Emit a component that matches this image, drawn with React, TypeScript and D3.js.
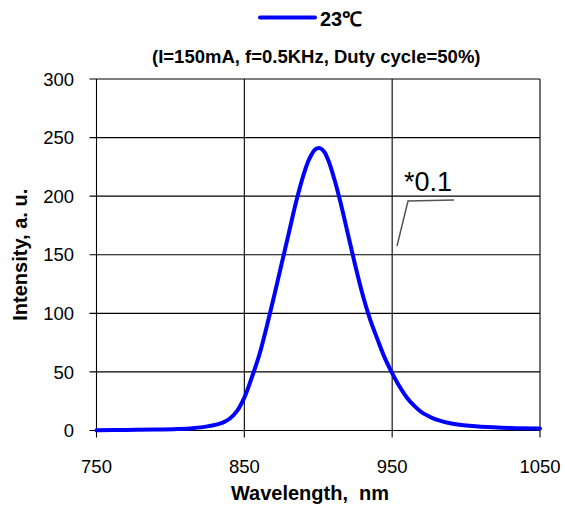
import React from "react";
import * as d3 from "d3";

const wavelengths = [750, 770, 790, 805, 815, 825, 835, 840, 845, 850, 855, 860, 865, 870, 875, 880, 885, 890, 894, 898, 901, 904, 907, 911, 915, 920, 925, 930, 935, 940, 945, 950, 955, 960, 965, 970, 975, 980, 990, 1000, 1010, 1030, 1050];
const intensities = [0.3, 0.5, 0.8, 1.3, 2, 3.5, 6.5, 10, 16.5, 28, 45, 64, 88, 114, 141, 168, 195, 218, 232, 240, 241, 238, 230, 214, 195, 168, 141, 116, 95, 78, 62, 49, 37.5, 28, 21, 15.5, 12, 9.3, 6, 4.2, 3.2, 2.2, 1.8];
const xTicks = [750, 850, 950, 1050];
const yTicks = [0, 50, 100, 150, 200, 250, 300];
const seriesName = "23℃";
const subtitle = "(I=150mA, f=0.5KHz, Duty cycle=50%)";
const xTitle = "Wavelength,  nm";
const yTitle = "Intensity, a. u.";
const note = "*0.1";

const W = 565, H = 511;
const left = 96.5, right = 540, top = 79, bottom = 430.5;
const FONT = "'Liberation Sans', Arial, Helvetica, sans-serif";

export default function App() {
  const x = d3.scaleLinear().domain([750, 1050]).range([left, right]);
  const y = d3.scaleLinear().domain([0, 300]).range([bottom, top]);
  const pts: [number, number][] = wavelengths.map((w, i) => [w, intensities[i]]);
  const line = d3
    .line<[number, number]>()
    .x((d) => x(d[0]))
    .y((d) => y(d[1]))
    .curve(d3.curveCatmullRom.alpha(0.5));
  const cx = (left + right) / 2;
  return (
    <svg
      width={W}
      height={H}
      style={{ position: "absolute", left: 0, top: 0, background: "#fff" }}
      fontFamily={FONT}
    >
      <rect x={0} y={0} width={W} height={H} fill="#fff" />
      {/* legend */}
      <line x1={260} x2={315} y1={17.5} y2={17.5} stroke="#0000ff" strokeWidth={4} strokeLinecap="round" />
      <text x={320} y={25.5} fontSize={20} fontWeight="bold" fill="#000">{seriesName}</text>
      <text x={cx - 2} y={63} fontSize={18.5} fontWeight="bold" textAnchor="middle" fill="#000">{subtitle}</text>
      {/* horizontal gridlines */}
      {yTicks.map((t) => (
        <line key={"h" + t} x1={left - 7} x2={right} y1={y(t)} y2={y(t)} stroke="#000" strokeWidth={1.1} />
      ))}
      {/* vertical gridlines */}
      {xTicks.map((t) => (
        <line key={"v" + t} x1={x(t)} x2={x(t)} y1={top} y2={bottom + 7} stroke="#000" strokeWidth={1.1} />
      ))}
      {yTicks.map((t) => (
        <text key={"yl" + t} x={74} y={y(t)} dy="0.36em" fontSize={18.5} textAnchor="end" fill="#000">{t}</text>
      ))}
      {xTicks.map((t) => (
        <text key={"xl" + t} x={x(t)} y={473} fontSize={18.5} textAnchor="middle" fill="#000">{t}</text>
      ))}
      <text x={310} y={500} fontSize={20} fontWeight="bold" textAnchor="middle" fill="#000" style={{ whiteSpace: "pre" }}>{xTitle}</text>
      <text transform={`translate(27, ${(top + bottom) / 2}) rotate(-90)`} fontSize={20} fontWeight="bold" textAnchor="middle" fill="#000">{yTitle}</text>
      {/* curve */}
      <path d={line(pts) || ""} fill="none" stroke="#0000ff" strokeWidth={4} strokeLinejoin="round" strokeLinecap="round" />
      {/* annotation */}
      <text x={404} y={191} fontSize={27} fill="#000">{note}</text>
      <polyline points="397,246 408,201 454,200" fill="none" stroke="#555" strokeWidth={1.5} />
    </svg>
  );
}
